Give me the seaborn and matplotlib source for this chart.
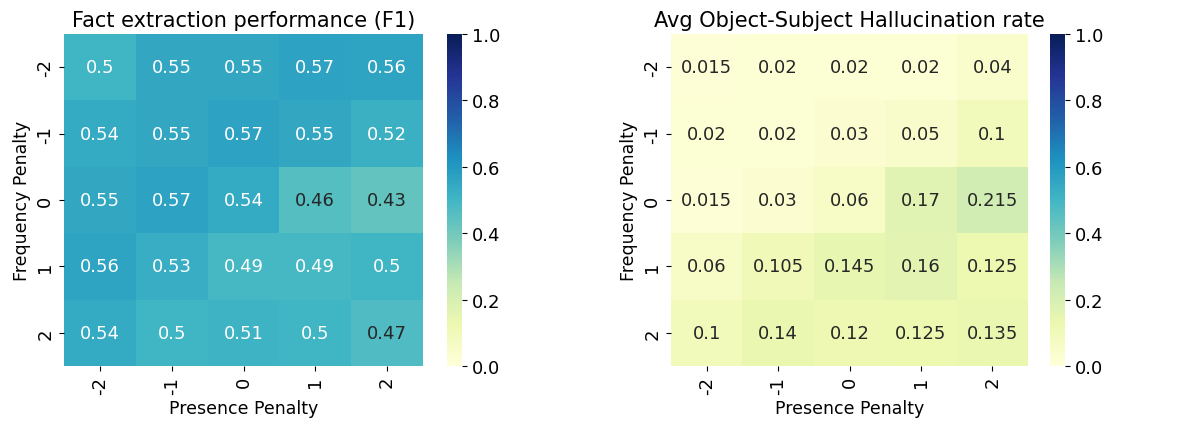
# Heatmaps of fact extraction F1 and hallucination rate vs penalties

import numpy as np
import pandas as pd
from matplotlib import pyplot as plt
import seaborn as sns

# Data
presence = [-2, -1, 0, 1, 2]
frequency = [-2, -1, 0, 1, 2]

f1 = [[0.5, 0.55, 0.55, 0.57, 0.56],
      [0.54, 0.55, 0.57, 0.55, 0.52],
      [0.55, 0.57, 0.54, 0.46, 0.43],
      [0.56, 0.53, 0.49, 0.49, 0.5],
      [0.54, 0.5, 0.51, 0.5, 0.47]]

halluc = [[0.015, 0.02, 0.02, 0.02, 0.04],
          [0.02, 0.02, 0.03, 0.05, 0.1],
          [0.015, 0.03, 0.06, 0.17, 0.215],
          [0.06, 0.105, 0.145, 0.16, 0.125],
          [0.1, 0.14, 0.12, 0.125, 0.135]]

df_f1 = pd.DataFrame(f1, index=frequency, columns=presence)
df_h = pd.DataFrame(halluc, index=frequency, columns=presence)

fig = plt.figure(figsize=(11.82, 4.35), dpi=100)
W, H = 1182, 435

def box(x0, x1, y0, y1):
    return [x0 / W, 1 - y1 / H, (x1 - x0) / W, (y1 - y0) / H]

ax1 = fig.add_axes(box(64, 423, 35, 367))
cax1 = fig.add_axes(box(447, 462, 35, 367))
ax2 = fig.add_axes(box(671, 1028, 35, 367))
cax2 = fig.add_axes(box(1050, 1065, 35, 367))

panels = [(ax1, cax1, df_f1, 'Fact extraction performance (F1)'),
          (ax2, cax2, df_h, 'Avg Object-Subject Hallucination rate')]

for ax, cax, df, title in panels:
    sns.heatmap(df, ax=ax, cbar_ax=cax, cmap='YlGnBu', vmin=0, vmax=1,
                annot=True, fmt='g', annot_kws={'size': 13})
    ax.set_title(title, fontsize=15)
    ax.set_xlabel('Presence Penalty', fontsize=12.5)
    ax.set_ylabel('Frequency Penalty', fontsize=12.5)
    ax.tick_params(axis='x', labelsize=13, rotation=90)
    ax.tick_params(axis='y', labelsize=13, rotation=90)
    for t in ax.get_yticklabels():
        t.set_va('center')
    cax.tick_params(labelsize=13)

fig.savefig('out.png', dpi=100)
